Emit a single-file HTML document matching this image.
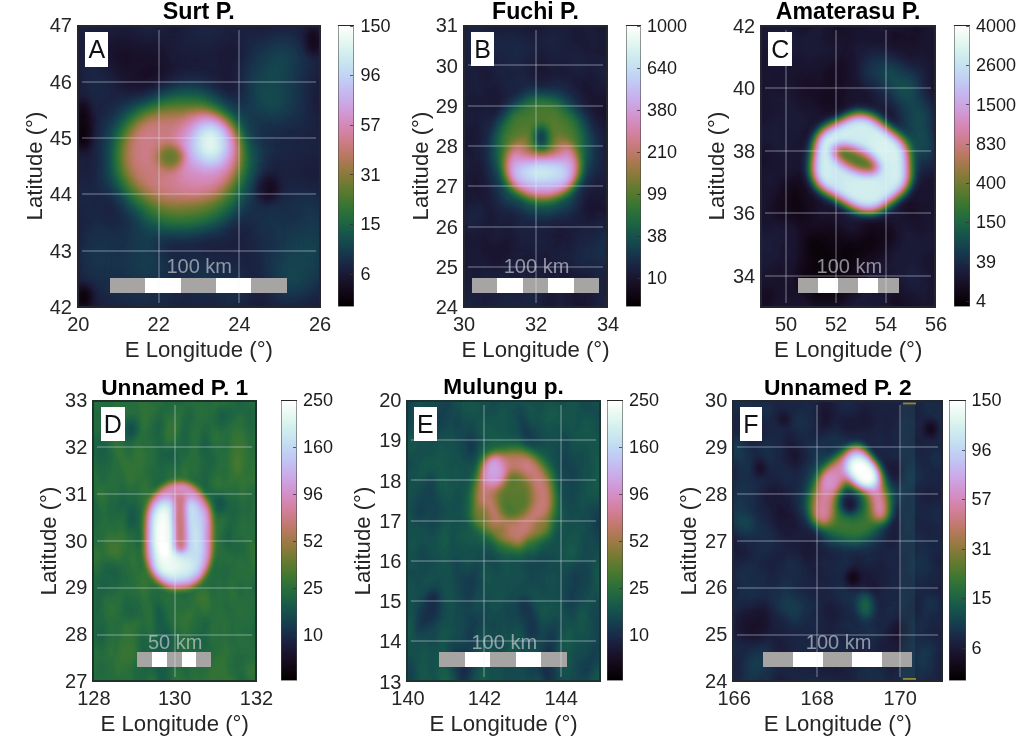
<!DOCTYPE html>
<html><head><meta charset="utf-8"><title>Pateras</title>
<style>
html,body{margin:0;padding:0;background:#fff;}
body{width:1024px;height:749px;position:relative;overflow:hidden;font-family:"Liberation Sans",Arial,sans-serif;color:#262626;}
.t{position:absolute;white-space:nowrap;line-height:1;}
.tk{font-size:20px;}
.cb{font-size:18px;color:#1a1a1a;}
.lb{font-size:22.2px;}
.ti{font-size:22.8px;font-weight:bold;color:#000;}
.c{transform:translate(-50%,-50%);}
.r{transform:translate(-100%,-50%);}
.l{transform:translate(0,-50%);}
.v{transform:translate(-50%,-50%) rotate(-90deg);}
.plot{position:absolute;overflow:hidden;background:#1a1d2b;}
.plot svg{position:absolute;left:0;top:0;display:block;}
.fr{position:absolute;box-sizing:border-box;border:2px solid #23262f;pointer-events:none;}
.gl{position:absolute;background:rgba(235,240,255,0.23);}
.box{position:absolute;background:#fff;color:#111;font-size:25px;line-height:1;text-align:center;}
.bar{position:absolute;}
.bar i{position:absolute;top:0;bottom:0;display:block;}
.sc{font-size:20px;color:rgba(200,204,212,0.68);}
.cbar{position:absolute;box-sizing:border-box;border:1px solid rgba(70,70,70,0.55);background:linear-gradient(to bottom,#ffffff 0.00%,#f8fdfa 1.56%,#f0fbf5 3.12%,#e9f8f2 4.69%,#e2f6f0 6.25%,#dbf3ef 7.81%,#d4efef 9.38%,#cfebef 10.94%,#cae7f0 12.50%,#c6e2f1 14.06%,#c4dcf2 15.62%,#c2d6f3 17.19%,#c1cff3 18.75%,#c2c9f3 20.31%,#c3c1f2 21.88%,#c5baf0 23.44%,#c7b3ed 25.00%,#caace8 26.56%,#cca5e2 28.12%,#cf9edb 29.69%,#d197d3 31.25%,#d391c9 32.81%,#d48cbf 34.38%,#d487b3 35.94%,#d483a7 37.50%,#d2809a 39.06%,#ce7d8e 40.62%,#ca7b81 42.19%,#c47a74 43.75%,#bc7968 45.31%,#b4795d 46.88%,#aa7952 48.44%,#a07949 50.00%,#957a41 51.56%,#897a3b 53.12%,#7d7a35 54.69%,#717b32 56.25%,#647a30 57.81%,#597a2f 59.38%,#4d792f 60.94%,#437731 62.50%,#397533 64.06%,#307237 65.62%,#296e3a 67.19%,#236a3e 68.75%,#1e6542 70.31%,#1a5f46 71.88%,#175949 73.44%,#16534c 75.00%,#154c4e 76.56%,#15454e 78.12%,#163e4e 79.69%,#17374d 81.25%,#18304a 82.81%,#192a46 84.38%,#1a2341 85.94%,#1b1d3b 87.50%,#1a1834 89.06%,#19132d 90.62%,#180f25 92.19%,#150b1d 93.75%,#110815 95.31%,#0c050e 96.88%,#070206 98.44%,#000000 100.00%);}
.ct{position:absolute;height:1px;width:3px;background:rgba(50,50,50,0.75);}
</style></head><body>

<div class="plot" style="left:77.0px;top:24.7px;width:243.5px;height:283.1px"><svg width="243.5" height="283.1" viewBox="0 0 243.5 283.1"><defs><filter id="fA" x="0" y="0" width="100%" height="100%" filterUnits="objectBoundingBox" color-interpolation-filters="sRGB">
<feTurbulence type="fractalNoise" baseFrequency="0.018 0.014" numOctaves="2" seed="3" result="n"/>
<feColorMatrix in="n" type="matrix" values="1 0 0 0 0  1 0 0 0 0  1 0 0 0 0  0 0 0 0 1" result="ng"/>
<feComposite in="SourceGraphic" in2="ng" operator="arithmetic" k1="0" k2="1" k3="0.1" k4="-0.0500" result="s"/>
<feComponentTransfer in="s">
<feFuncR type="table" tableValues="0.0000 0.0257 0.0481 0.0668 0.0817 0.0927 0.0999 0.1036 0.1042 0.1024 0.0988 0.0942 0.0895 0.0853 0.0827 0.0823 0.0850 0.0912 0.1016 0.1166 0.1363 0.1608 0.1901 0.2238 0.2616 0.3030 0.3473 0.3937 0.4414 0.4895 0.5372 0.5835 0.6275 0.6686 0.7059 0.7390 0.7673 0.7907 0.8088 0.8218 0.8299 0.8333 0.8325 0.8282 0.8210 0.8117 0.8011 0.7902 0.7798 0.7707 0.7636 0.7592 0.7581 0.7607 0.7673 0.7780 0.7927 0.8112 0.8331 0.8580 0.8851 0.9137 0.9430 0.9720 1.0000"/>
<feFuncG type="table" tableValues="0.0000 0.0088 0.0186 0.0300 0.0431 0.0581 0.0752 0.0944 0.1156 0.1387 0.1634 0.1894 0.2163 0.2438 0.2713 0.2986 0.3250 0.3502 0.3738 0.3954 0.4148 0.4317 0.4461 0.4578 0.4668 0.4734 0.4778 0.4801 0.4807 0.4800 0.4786 0.4767 0.4750 0.4738 0.4737 0.4751 0.4784 0.4838 0.4916 0.5021 0.5152 0.5310 0.5495 0.5704 0.5936 0.6187 0.6453 0.6731 0.7015 0.7303 0.7588 0.7867 0.8136 0.8391 0.8629 0.8848 0.9046 0.9223 0.9379 0.9516 0.9634 0.9738 0.9831 0.9917 1.0000"/>
<feFuncB type="table" tableValues="0.0000 0.0251 0.0530 0.0831 0.1143 0.1458 0.1764 0.2055 0.2320 0.2553 0.2747 0.2899 0.3005 0.3064 0.3078 0.3048 0.2979 0.2876 0.2747 0.2600 0.2444 0.2288 0.2141 0.2014 0.1916 0.1854 0.1836 0.1867 0.1953 0.2095 0.2295 0.2552 0.2864 0.3226 0.3633 0.4078 0.4551 0.5045 0.5550 0.6055 0.6552 0.7030 0.7481 0.7897 0.8272 0.8601 0.8881 0.9109 0.9287 0.9415 0.9497 0.9540 0.9548 0.9530 0.9495 0.9450 0.9407 0.9373 0.9358 0.9369 0.9413 0.9495 0.9620 0.9788 1.0000"/>
<feFuncA type="linear" slope="0" intercept="1"/>
</feComponentTransfer>
</filter><filter id="fAb3" filterUnits="userSpaceOnUse" x="-40" y="-40" width="324" height="363" color-interpolation-filters="sRGB"><feGaussianBlur stdDeviation="3"/></filter><filter id="fAb5" filterUnits="userSpaceOnUse" x="-40" y="-40" width="324" height="363" color-interpolation-filters="sRGB"><feGaussianBlur stdDeviation="5"/></filter><filter id="fAb8" filterUnits="userSpaceOnUse" x="-40" y="-40" width="324" height="363" color-interpolation-filters="sRGB"><feGaussianBlur stdDeviation="8"/></filter><filter id="fAb12" filterUnits="userSpaceOnUse" x="-40" y="-40" width="324" height="363" color-interpolation-filters="sRGB"><feGaussianBlur stdDeviation="12"/></filter></defs>
<g filter="url(#fA)"><rect x="-5" y="-5" width="253.5" height="293.1" fill="#212121"/>
<g filter="url(#fAb12)">
<ellipse cx="197" cy="50" rx="32" ry="45" fill="#363636"/>
<ellipse cx="214" cy="215" rx="32" ry="60" fill="#333333"/>
<ellipse cx="45" cy="238" rx="36" ry="45" fill="#303030"/>
<ellipse cx="125" cy="252" rx="50" ry="22" fill="#2b2b2b"/>
<ellipse cx="70" cy="40" rx="42" ry="30" fill="#1a1a1a"/>
<ellipse cx="150" cy="30" rx="25" ry="22" fill="#1c1c1c"/>
</g><g filter="url(#fAb5)">
<ellipse cx="189" cy="163" rx="12" ry="14" fill="#121212"/>
<ellipse cx="6" cy="100" rx="9" ry="26" fill="#050505"/>
<ellipse cx="6" cy="272" rx="9" ry="12" fill="#050505"/>
<ellipse cx="237" cy="16" rx="8" ry="14" fill="#080808"/>
</g>
<ellipse cx="105" cy="136" rx="68" ry="68" fill="#6b6b6b" filter="url(#fAb12)"/>
<rect x="49" y="88" width="110" height="87" rx="43" ry="38" fill="#939393" filter="url(#fAb8)"/>
<ellipse cx="124" cy="128" rx="32" ry="37" fill="#a3a3a3" filter="url(#fAb8)"/>
<ellipse cx="130" cy="124" rx="25" ry="28" fill="#bababa" filter="url(#fAb8)"/>
<ellipse cx="93" cy="132" rx="13" ry="12" fill="#6b6b6b" filter="url(#fAb5)"/>
<ellipse cx="134" cy="119" rx="14" ry="19" fill="#f7f7f7" filter="url(#fAb8)"/>

</g></svg>
<div class="bar" style="left:33.0px;top:253.5px;width:176.5px;height:14.6px"><i style="left:0.0px;width:35.6px;background:#a6a5a4"></i><i style="left:35.3px;width:35.6px;background:#fff"></i><i style="left:70.6px;width:35.6px;background:#a6a5a4"></i><i style="left:105.9px;width:35.6px;background:#fff"></i><i style="left:141.2px;width:35.6px;background:#a6a5a4"></i></div>
<div class="gl" style="left:80.7px;top:5px;width:2px;height:273.1px"></div>
<div class="gl" style="left:161.4px;top:5px;width:2px;height:273.1px"></div>
<div class="gl" style="left:5px;top:56.0px;height:2px;width:233.5px"></div>
<div class="gl" style="left:5px;top:112.3px;height:2px;width:233.5px"></div>
<div class="gl" style="left:5px;top:168.6px;height:2px;width:233.5px"></div>
<div class="gl" style="left:5px;top:224.9px;height:2px;width:233.5px"></div>
<div class="box" style="left:8.3px;top:7.8px;width:23.0px;height:34.4px"><span style="position:relative;top:4.6px">A</span></div>
<div class="t sc c" style="left:122.2px;top:241.2px">100 km</div>
</div>
<div class="fr" style="left:77.0px;top:24.7px;width:243.5px;height:283.1px;border-color:#23262f"></div>
<div class="t ti c" style="left:198.8px;top:12.0px;font-size:23.3px">Surt P.</div>
<div class="t tk r" style="left:72.0px;top:25.4px">47</div>
<div class="t tk r" style="left:72.0px;top:81.7px">46</div>
<div class="t tk r" style="left:72.0px;top:138.0px">45</div>
<div class="t tk r" style="left:72.0px;top:194.3px">44</div>
<div class="t tk r" style="left:72.0px;top:250.6px">43</div>
<div class="t tk r" style="left:72.0px;top:306.9px">42</div>
<div class="t tk c" style="left:78.3px;top:324.1px">20</div>
<div class="t tk c" style="left:158.7px;top:324.1px">22</div>
<div class="t tk c" style="left:239.4px;top:324.1px">24</div>
<div class="t tk c" style="left:320.0px;top:324.1px">26</div>
<div class="t lb c" style="left:198.8px;top:349.8px">E Longitude (°)</div>
<div class="t lb v" style="left:34.5px;top:166.2px">Latitude (°)</div>
<div class="cbar" style="left:338.1px;top:24.7px;width:16.3px;height:282.1px"></div>
<div class="ct" style="left:350.4px;top:25.8px"></div>
<div class="t cb l" style="left:360.4px;top:25.9px">150</div>
<div class="ct" style="left:350.4px;top:75.3px"></div>
<div class="t cb l" style="left:360.4px;top:75.4px">96</div>
<div class="ct" style="left:350.4px;top:124.9px"></div>
<div class="t cb l" style="left:360.4px;top:125.0px">57</div>
<div class="ct" style="left:350.4px;top:174.4px"></div>
<div class="t cb l" style="left:360.4px;top:174.5px">31</div>
<div class="ct" style="left:350.4px;top:224.0px"></div>
<div class="t cb l" style="left:360.4px;top:224.1px">15</div>
<div class="ct" style="left:350.4px;top:273.6px"></div>
<div class="t cb l" style="left:360.4px;top:273.7px">6</div>
<div class="plot" style="left:463.0px;top:24.7px;width:145.1px;height:283.1px"><svg width="145.1" height="283.1" viewBox="0 0 145.1 283.1"><defs><filter id="fB" x="0" y="0" width="100%" height="100%" filterUnits="objectBoundingBox" color-interpolation-filters="sRGB">
<feTurbulence type="fractalNoise" baseFrequency="0.03 0.02" numOctaves="2" seed="5" result="n"/>
<feColorMatrix in="n" type="matrix" values="1 0 0 0 0  1 0 0 0 0  1 0 0 0 0  0 0 0 0 1" result="ng"/>
<feComposite in="SourceGraphic" in2="ng" operator="arithmetic" k1="0" k2="1" k3="0.08" k4="-0.0400" result="s"/>
<feComponentTransfer in="s">
<feFuncR type="table" tableValues="0.0000 0.0257 0.0481 0.0668 0.0817 0.0927 0.0999 0.1036 0.1042 0.1024 0.0988 0.0942 0.0895 0.0853 0.0827 0.0823 0.0850 0.0912 0.1016 0.1166 0.1363 0.1608 0.1901 0.2238 0.2616 0.3030 0.3473 0.3937 0.4414 0.4895 0.5372 0.5835 0.6275 0.6686 0.7059 0.7390 0.7673 0.7907 0.8088 0.8218 0.8299 0.8333 0.8325 0.8282 0.8210 0.8117 0.8011 0.7902 0.7798 0.7707 0.7636 0.7592 0.7581 0.7607 0.7673 0.7780 0.7927 0.8112 0.8331 0.8580 0.8851 0.9137 0.9430 0.9720 1.0000"/>
<feFuncG type="table" tableValues="0.0000 0.0088 0.0186 0.0300 0.0431 0.0581 0.0752 0.0944 0.1156 0.1387 0.1634 0.1894 0.2163 0.2438 0.2713 0.2986 0.3250 0.3502 0.3738 0.3954 0.4148 0.4317 0.4461 0.4578 0.4668 0.4734 0.4778 0.4801 0.4807 0.4800 0.4786 0.4767 0.4750 0.4738 0.4737 0.4751 0.4784 0.4838 0.4916 0.5021 0.5152 0.5310 0.5495 0.5704 0.5936 0.6187 0.6453 0.6731 0.7015 0.7303 0.7588 0.7867 0.8136 0.8391 0.8629 0.8848 0.9046 0.9223 0.9379 0.9516 0.9634 0.9738 0.9831 0.9917 1.0000"/>
<feFuncB type="table" tableValues="0.0000 0.0251 0.0530 0.0831 0.1143 0.1458 0.1764 0.2055 0.2320 0.2553 0.2747 0.2899 0.3005 0.3064 0.3078 0.3048 0.2979 0.2876 0.2747 0.2600 0.2444 0.2288 0.2141 0.2014 0.1916 0.1854 0.1836 0.1867 0.1953 0.2095 0.2295 0.2552 0.2864 0.3226 0.3633 0.4078 0.4551 0.5045 0.5550 0.6055 0.6552 0.7030 0.7481 0.7897 0.8272 0.8601 0.8881 0.9109 0.9287 0.9415 0.9497 0.9540 0.9548 0.9530 0.9495 0.9450 0.9407 0.9373 0.9358 0.9369 0.9413 0.9495 0.9620 0.9788 1.0000"/>
<feFuncA type="linear" slope="0" intercept="1"/>
</feComponentTransfer>
</filter><filter id="fBb3" filterUnits="userSpaceOnUse" x="-40" y="-40" width="225" height="363" color-interpolation-filters="sRGB"><feGaussianBlur stdDeviation="3"/></filter><filter id="fBb5" filterUnits="userSpaceOnUse" x="-40" y="-40" width="225" height="363" color-interpolation-filters="sRGB"><feGaussianBlur stdDeviation="5"/></filter><filter id="fBb8" filterUnits="userSpaceOnUse" x="-40" y="-40" width="225" height="363" color-interpolation-filters="sRGB"><feGaussianBlur stdDeviation="8"/></filter><filter id="fBb12" filterUnits="userSpaceOnUse" x="-40" y="-40" width="225" height="363" color-interpolation-filters="sRGB"><feGaussianBlur stdDeviation="12"/></filter></defs>
<g filter="url(#fB)"><rect x="-5" y="-5" width="155.1" height="293.1" fill="#1f1f1f"/>
<g filter="url(#fBb8)" opacity="0.85"><ellipse cx="139" cy="268" rx="13" ry="16" transform="rotate(9 139 268)" fill="#282828"/><ellipse cx="97" cy="87" rx="20" ry="24" transform="rotate(-14 97 87)" fill="#222222"/><ellipse cx="62" cy="111" rx="21" ry="30" transform="rotate(2 62 111)" fill="#2a2a2a"/><ellipse cx="65" cy="76" rx="12" ry="15" transform="rotate(-7 65 76)" fill="#1f1f1f"/><ellipse cx="55" cy="252" rx="19" ry="23" transform="rotate(-19 55 252)" fill="#1a1a1a"/><ellipse cx="47" cy="39" rx="19" ry="30" transform="rotate(-13 47 39)" fill="#242424"/><ellipse cx="130" cy="225" rx="22" ry="29" transform="rotate(12 130 225)" fill="#262626"/><ellipse cx="51" cy="278" rx="25" ry="17" transform="rotate(9 51 278)" fill="#262626"/><ellipse cx="67" cy="150" rx="18" ry="29" transform="rotate(13 67 150)" fill="#202020"/><ellipse cx="51" cy="250" rx="24" ry="22" transform="rotate(17 51 250)" fill="#212121"/></g>
<ellipse cx="78" cy="128" rx="43" ry="58" fill="#666666" filter="url(#fBb12)"/>
<ellipse cx="78" cy="120" rx="27" ry="33" fill="none" stroke="#666666" stroke-width="20" filter="url(#fBb8)"/>
<ellipse cx="79" cy="141" rx="36" ry="32" fill="#a8a8a8" filter="url(#fBb5)"/>
<ellipse cx="78" cy="111" rx="23" ry="25" fill="#666666" filter="url(#fBb8)"/>
<ellipse cx="80.5" cy="148" rx="29" ry="12" fill="#e6e6e6" filter="url(#fBb8)"/>
<ellipse cx="78.4" cy="113" rx="7" ry="12" fill="#262626" filter="url(#fBb5)"/>

</g></svg>
<div class="bar" style="left:9.0px;top:252.9px;width:127.0px;height:15.2px"><i style="left:0.0px;width:25.7px;background:#a6a5a4"></i><i style="left:25.4px;width:25.7px;background:#fff"></i><i style="left:50.8px;width:25.7px;background:#a6a5a4"></i><i style="left:76.2px;width:25.7px;background:#fff"></i><i style="left:101.6px;width:25.7px;background:#a6a5a4"></i></div>
<div class="gl" style="left:72.0px;top:5px;width:2px;height:273.1px"></div>
<div class="gl" style="left:5px;top:39.8px;height:2px;width:135.1px"></div>
<div class="gl" style="left:5px;top:80.1px;height:2px;width:135.1px"></div>
<div class="gl" style="left:5px;top:120.4px;height:2px;width:135.1px"></div>
<div class="gl" style="left:5px;top:160.7px;height:2px;width:135.1px"></div>
<div class="gl" style="left:5px;top:201.0px;height:2px;width:135.1px"></div>
<div class="gl" style="left:5px;top:241.3px;height:2px;width:135.1px"></div>
<div class="box" style="left:8.0px;top:7.8px;width:23.0px;height:34.0px"><span style="position:relative;top:4.6px">B</span></div>
<div class="t sc c" style="left:73.5px;top:241.2px">100 km</div>
</div>
<div class="fr" style="left:463.0px;top:24.7px;width:145.1px;height:283.1px;border-color:#23262f"></div>
<div class="t ti c" style="left:535.5px;top:12.0px;font-size:23.1px">Fuchi P.</div>
<div class="t tk r" style="left:458.0px;top:25.2px">31</div>
<div class="t tk r" style="left:458.0px;top:65.5px">30</div>
<div class="t tk r" style="left:458.0px;top:105.8px">29</div>
<div class="t tk r" style="left:458.0px;top:146.1px">28</div>
<div class="t tk r" style="left:458.0px;top:186.4px">27</div>
<div class="t tk r" style="left:458.0px;top:226.7px">26</div>
<div class="t tk r" style="left:458.0px;top:267.0px">25</div>
<div class="t tk r" style="left:458.0px;top:307.3px">24</div>
<div class="t tk c" style="left:464.0px;top:324.1px">30</div>
<div class="t tk c" style="left:536.0px;top:324.1px">32</div>
<div class="t tk c" style="left:608.0px;top:324.1px">34</div>
<div class="t lb c" style="left:535.5px;top:349.8px">E Longitude (°)</div>
<div class="t lb v" style="left:421.0px;top:166.2px">Latitude (°)</div>
<div class="cbar" style="left:626.4px;top:24.7px;width:14.6px;height:282.1px"></div>
<div class="ct" style="left:637.0px;top:25.8px"></div>
<div class="t cb l" style="left:647.0px;top:25.9px">1000</div>
<div class="ct" style="left:637.0px;top:67.8px"></div>
<div class="t cb l" style="left:647.0px;top:67.9px">640</div>
<div class="ct" style="left:637.0px;top:109.8px"></div>
<div class="t cb l" style="left:647.0px;top:109.9px">380</div>
<div class="ct" style="left:637.0px;top:151.8px"></div>
<div class="t cb l" style="left:647.0px;top:151.9px">210</div>
<div class="ct" style="left:637.0px;top:193.8px"></div>
<div class="t cb l" style="left:647.0px;top:193.9px">99</div>
<div class="ct" style="left:637.0px;top:235.8px"></div>
<div class="t cb l" style="left:647.0px;top:235.9px">38</div>
<div class="ct" style="left:637.0px;top:277.8px"></div>
<div class="t cb l" style="left:647.0px;top:277.9px">10</div>
<div class="plot" style="left:760.2px;top:24.7px;width:176.1px;height:283.1px"><svg width="176.1" height="283.1" viewBox="0 0 176.1 283.1"><defs><filter id="fC" x="0" y="0" width="100%" height="100%" filterUnits="objectBoundingBox" color-interpolation-filters="sRGB">
<feTurbulence type="fractalNoise" baseFrequency="0.03 0.02" numOctaves="2" seed="8" result="n"/>
<feColorMatrix in="n" type="matrix" values="1 0 0 0 0  1 0 0 0 0  1 0 0 0 0  0 0 0 0 1" result="ng"/>
<feComposite in="SourceGraphic" in2="ng" operator="arithmetic" k1="0" k2="1" k3="0.08" k4="-0.0400" result="s"/>
<feComponentTransfer in="s">
<feFuncR type="table" tableValues="0.0000 0.0257 0.0481 0.0668 0.0817 0.0927 0.0999 0.1036 0.1042 0.1024 0.0988 0.0942 0.0895 0.0853 0.0827 0.0823 0.0850 0.0912 0.1016 0.1166 0.1363 0.1608 0.1901 0.2238 0.2616 0.3030 0.3473 0.3937 0.4414 0.4895 0.5372 0.5835 0.6275 0.6686 0.7059 0.7390 0.7673 0.7907 0.8088 0.8218 0.8299 0.8333 0.8325 0.8282 0.8210 0.8117 0.8011 0.7902 0.7798 0.7707 0.7636 0.7592 0.7581 0.7607 0.7673 0.7780 0.7927 0.8112 0.8331 0.8580 0.8851 0.9137 0.9430 0.9720 1.0000"/>
<feFuncG type="table" tableValues="0.0000 0.0088 0.0186 0.0300 0.0431 0.0581 0.0752 0.0944 0.1156 0.1387 0.1634 0.1894 0.2163 0.2438 0.2713 0.2986 0.3250 0.3502 0.3738 0.3954 0.4148 0.4317 0.4461 0.4578 0.4668 0.4734 0.4778 0.4801 0.4807 0.4800 0.4786 0.4767 0.4750 0.4738 0.4737 0.4751 0.4784 0.4838 0.4916 0.5021 0.5152 0.5310 0.5495 0.5704 0.5936 0.6187 0.6453 0.6731 0.7015 0.7303 0.7588 0.7867 0.8136 0.8391 0.8629 0.8848 0.9046 0.9223 0.9379 0.9516 0.9634 0.9738 0.9831 0.9917 1.0000"/>
<feFuncB type="table" tableValues="0.0000 0.0251 0.0530 0.0831 0.1143 0.1458 0.1764 0.2055 0.2320 0.2553 0.2747 0.2899 0.3005 0.3064 0.3078 0.3048 0.2979 0.2876 0.2747 0.2600 0.2444 0.2288 0.2141 0.2014 0.1916 0.1854 0.1836 0.1867 0.1953 0.2095 0.2295 0.2552 0.2864 0.3226 0.3633 0.4078 0.4551 0.5045 0.5550 0.6055 0.6552 0.7030 0.7481 0.7897 0.8272 0.8601 0.8881 0.9109 0.9287 0.9415 0.9497 0.9540 0.9548 0.9530 0.9495 0.9450 0.9407 0.9373 0.9358 0.9369 0.9413 0.9495 0.9620 0.9788 1.0000"/>
<feFuncA type="linear" slope="0" intercept="1"/>
</feComponentTransfer>
</filter><filter id="fCb3" filterUnits="userSpaceOnUse" x="-40" y="-40" width="256" height="363" color-interpolation-filters="sRGB"><feGaussianBlur stdDeviation="3"/></filter><filter id="fCb5" filterUnits="userSpaceOnUse" x="-40" y="-40" width="256" height="363" color-interpolation-filters="sRGB"><feGaussianBlur stdDeviation="5"/></filter><filter id="fCb8" filterUnits="userSpaceOnUse" x="-40" y="-40" width="256" height="363" color-interpolation-filters="sRGB"><feGaussianBlur stdDeviation="8"/></filter><filter id="fCb12" filterUnits="userSpaceOnUse" x="-40" y="-40" width="256" height="363" color-interpolation-filters="sRGB"><feGaussianBlur stdDeviation="12"/></filter></defs>
<g filter="url(#fC)"><rect x="-5" y="-5" width="186.1" height="293.1" fill="#1a1a1a"/>
<g filter="url(#fCb8)">
<ellipse cx="70" cy="240" rx="32" ry="40" fill="#080808"/>
<ellipse cx="30" cy="175" rx="14" ry="22" fill="#0d0d0d"/>
<ellipse cx="120" cy="215" rx="18" ry="18" fill="#0d0d0d"/>
<ellipse cx="60" cy="55" rx="22" ry="25" fill="#141414"/>
<ellipse cx="150" cy="230" rx="20" ry="35" fill="#1f1f1f"/>
<ellipse cx="25" cy="100" rx="15" ry="30" fill="#1f1f1f"/>
</g>
<path d="M118 45 C150 50 165 90 158 130" fill="none" stroke="#474747" stroke-width="24" stroke-linecap="round" filter="url(#fCb12)"/>
<path d="M81 125 L100 116 L122 133 L123 149 L108 160 L79 144 Z" fill="#737373" stroke="#737373" stroke-width="60" stroke-linejoin="round" filter="url(#fCb5)"/>
<path d="M81 125 L100 116 L122 133 L123 149 L108 160 L79 144 Z" fill="#e6e6e6" stroke="#e6e6e6" stroke-width="48" stroke-linejoin="round" filter="url(#fCb5)"/>
<ellipse cx="95.5" cy="134.5" rx="28" ry="14" transform="rotate(25 95.5 134.5)" fill="#b2b2b2" filter="url(#fCb3)"/>
<ellipse cx="95.5" cy="134.5" rx="21" ry="7.5" transform="rotate(25 95.5 135)" fill="#666666" filter="url(#fCb3)"/>

</g></svg>
<div class="bar" style="left:38.2px;top:253.2px;width:100.0px;height:14.9px"><i style="left:0.0px;width:20.3px;background:#a6a5a4"></i><i style="left:20.0px;width:20.3px;background:#fff"></i><i style="left:40.0px;width:20.3px;background:#a6a5a4"></i><i style="left:60.0px;width:20.3px;background:#fff"></i><i style="left:80.0px;width:20.3px;background:#a6a5a4"></i></div>
<div class="gl" style="left:24.8px;top:5px;width:2px;height:273.1px"></div>
<div class="gl" style="left:74.8px;top:5px;width:2px;height:273.1px"></div>
<div class="gl" style="left:124.8px;top:5px;width:2px;height:273.1px"></div>
<div class="gl" style="left:5px;top:62.7px;height:2px;width:166.1px"></div>
<div class="gl" style="left:5px;top:125.1px;height:2px;width:166.1px"></div>
<div class="gl" style="left:5px;top:187.5px;height:2px;width:166.1px"></div>
<div class="gl" style="left:5px;top:249.9px;height:2px;width:166.1px"></div>
<div class="box" style="left:8.1px;top:7.8px;width:23.9px;height:34.0px"><span style="position:relative;top:4.6px">C</span></div>
<div class="t sc c" style="left:89.2px;top:241.2px">100 km</div>
</div>
<div class="fr" style="left:760.2px;top:24.7px;width:176.1px;height:283.1px;border-color:#23262f"></div>
<div class="t ti c" style="left:848.2px;top:12.0px;font-size:23.1px">Amaterasu P.</div>
<div class="t tk r" style="left:755.2px;top:26.0px">42</div>
<div class="t tk r" style="left:755.2px;top:88.4px">40</div>
<div class="t tk r" style="left:755.2px;top:150.8px">38</div>
<div class="t tk r" style="left:755.2px;top:213.2px">36</div>
<div class="t tk r" style="left:755.2px;top:275.6px">34</div>
<div class="t tk c" style="left:786.0px;top:324.1px">50</div>
<div class="t tk c" style="left:836.0px;top:324.1px">52</div>
<div class="t tk c" style="left:886.0px;top:324.1px">54</div>
<div class="t tk c" style="left:936.0px;top:324.1px">56</div>
<div class="t lb c" style="left:848.2px;top:349.8px">E Longitude (°)</div>
<div class="t lb v" style="left:717.2px;top:166.2px">Latitude (°)</div>
<div class="cbar" style="left:953.8px;top:24.7px;width:16.2px;height:282.1px"></div>
<div class="ct" style="left:966.0px;top:25.8px"></div>
<div class="t cb l" style="left:976.0px;top:25.9px">4000</div>
<div class="ct" style="left:966.0px;top:65.1px"></div>
<div class="t cb l" style="left:976.0px;top:65.2px">2600</div>
<div class="ct" style="left:966.0px;top:104.4px"></div>
<div class="t cb l" style="left:976.0px;top:104.5px">1500</div>
<div class="ct" style="left:966.0px;top:143.7px"></div>
<div class="t cb l" style="left:976.0px;top:143.8px">830</div>
<div class="ct" style="left:966.0px;top:183.0px"></div>
<div class="t cb l" style="left:976.0px;top:183.1px">400</div>
<div class="ct" style="left:966.0px;top:222.3px"></div>
<div class="t cb l" style="left:976.0px;top:222.4px">150</div>
<div class="ct" style="left:966.0px;top:261.6px"></div>
<div class="t cb l" style="left:976.0px;top:261.7px">39</div>
<div class="ct" style="left:966.0px;top:300.9px"></div>
<div class="t cb l" style="left:976.0px;top:301.0px">4</div>
<div class="plot" style="left:92.3px;top:399.7px;width:164.7px;height:282.3px"><svg width="164.7" height="282.3" viewBox="0 0 164.7 282.3"><defs><filter id="fD" x="0" y="0" width="100%" height="100%" filterUnits="objectBoundingBox" color-interpolation-filters="sRGB">
<feTurbulence type="fractalNoise" baseFrequency="0.05 0.022" numOctaves="2" seed="2" result="n"/>
<feColorMatrix in="n" type="matrix" values="1 0 0 0 0  1 0 0 0 0  1 0 0 0 0  0 0 0 0 1" result="ng"/>
<feComposite in="SourceGraphic" in2="ng" operator="arithmetic" k1="0" k2="1" k3="0.1" k4="-0.0500" result="s"/>
<feComponentTransfer in="s">
<feFuncR type="table" tableValues="0.0000 0.0257 0.0481 0.0668 0.0817 0.0927 0.0999 0.1036 0.1042 0.1024 0.0988 0.0942 0.0895 0.0853 0.0827 0.0823 0.0850 0.0912 0.1016 0.1166 0.1363 0.1608 0.1901 0.2238 0.2616 0.3030 0.3473 0.3937 0.4414 0.4895 0.5372 0.5835 0.6275 0.6686 0.7059 0.7390 0.7673 0.7907 0.8088 0.8218 0.8299 0.8333 0.8325 0.8282 0.8210 0.8117 0.8011 0.7902 0.7798 0.7707 0.7636 0.7592 0.7581 0.7607 0.7673 0.7780 0.7927 0.8112 0.8331 0.8580 0.8851 0.9137 0.9430 0.9720 1.0000"/>
<feFuncG type="table" tableValues="0.0000 0.0088 0.0186 0.0300 0.0431 0.0581 0.0752 0.0944 0.1156 0.1387 0.1634 0.1894 0.2163 0.2438 0.2713 0.2986 0.3250 0.3502 0.3738 0.3954 0.4148 0.4317 0.4461 0.4578 0.4668 0.4734 0.4778 0.4801 0.4807 0.4800 0.4786 0.4767 0.4750 0.4738 0.4737 0.4751 0.4784 0.4838 0.4916 0.5021 0.5152 0.5310 0.5495 0.5704 0.5936 0.6187 0.6453 0.6731 0.7015 0.7303 0.7588 0.7867 0.8136 0.8391 0.8629 0.8848 0.9046 0.9223 0.9379 0.9516 0.9634 0.9738 0.9831 0.9917 1.0000"/>
<feFuncB type="table" tableValues="0.0000 0.0251 0.0530 0.0831 0.1143 0.1458 0.1764 0.2055 0.2320 0.2553 0.2747 0.2899 0.3005 0.3064 0.3078 0.3048 0.2979 0.2876 0.2747 0.2600 0.2444 0.2288 0.2141 0.2014 0.1916 0.1854 0.1836 0.1867 0.1953 0.2095 0.2295 0.2552 0.2864 0.3226 0.3633 0.4078 0.4551 0.5045 0.5550 0.6055 0.6552 0.7030 0.7481 0.7897 0.8272 0.8601 0.8881 0.9109 0.9287 0.9415 0.9497 0.9540 0.9548 0.9530 0.9495 0.9450 0.9407 0.9373 0.9358 0.9369 0.9413 0.9495 0.9620 0.9788 1.0000"/>
<feFuncA type="linear" slope="0" intercept="1"/>
</feComponentTransfer>
</filter><filter id="fDb3" filterUnits="userSpaceOnUse" x="-40" y="-40" width="245" height="362" color-interpolation-filters="sRGB"><feGaussianBlur stdDeviation="3"/></filter><filter id="fDb5" filterUnits="userSpaceOnUse" x="-40" y="-40" width="245" height="362" color-interpolation-filters="sRGB"><feGaussianBlur stdDeviation="5"/></filter><filter id="fDb8" filterUnits="userSpaceOnUse" x="-40" y="-40" width="245" height="362" color-interpolation-filters="sRGB"><feGaussianBlur stdDeviation="8"/></filter><filter id="fDb12" filterUnits="userSpaceOnUse" x="-40" y="-40" width="245" height="362" color-interpolation-filters="sRGB"><feGaussianBlur stdDeviation="12"/></filter></defs>
<g filter="url(#fD)"><rect x="-5" y="-5" width="174.7" height="292.3" fill="#525252"/>
<g filter="url(#fDb5)" opacity="0.85"><ellipse cx="39" cy="29" rx="6" ry="12" transform="rotate(-4 39 29)" fill="#383838"/><ellipse cx="151" cy="227" rx="8" ry="14" transform="rotate(-9 151 227)" fill="#4d4d4d"/><ellipse cx="28" cy="30" rx="5" ry="25" transform="rotate(12 28 30)" fill="#595959"/><ellipse cx="132" cy="55" rx="6" ry="20" transform="rotate(14 132 55)" fill="#555555"/><ellipse cx="145" cy="25" rx="7" ry="21" transform="rotate(-13 145 25)" fill="#4b4b4b"/><ellipse cx="78" cy="25" rx="9" ry="24" transform="rotate(-8 78 25)" fill="#4d4d4d"/><ellipse cx="150" cy="162" rx="8" ry="24" transform="rotate(-3 150 162)" fill="#4c4c4c"/><ellipse cx="99" cy="122" rx="5" ry="15" transform="rotate(-18 99 122)" fill="#595959"/><ellipse cx="8" cy="177" rx="5" ry="19" transform="rotate(-6 8 177)" fill="#4a4a4a"/><ellipse cx="165" cy="55" rx="6" ry="13" transform="rotate(-9 165 55)" fill="#515151"/><ellipse cx="59" cy="211" rx="6" ry="19" transform="rotate(-16 59 211)" fill="#5d5d5d"/><ellipse cx="10" cy="65" rx="8" ry="20" transform="rotate(-7 10 65)" fill="#404040"/><ellipse cx="29" cy="130" rx="4" ry="21" transform="rotate(18 29 130)" fill="#5c5c5c"/><ellipse cx="121" cy="272" rx="4" ry="15" transform="rotate(11 121 272)" fill="#5f5f5f"/><ellipse cx="68" cy="267" rx="7" ry="23" transform="rotate(-12 68 267)" fill="#424242"/><ellipse cx="73" cy="39" rx="6" ry="25" transform="rotate(-20 73 39)" fill="#444444"/><ellipse cx="7" cy="48" rx="8" ry="16" transform="rotate(-16 7 48)" fill="#424242"/><ellipse cx="162" cy="120" rx="5" ry="11" transform="rotate(-13 162 120)" fill="#383838"/><ellipse cx="112" cy="42" rx="4" ry="18" transform="rotate(20 112 42)" fill="#404040"/><ellipse cx="20" cy="150" rx="8" ry="17" transform="rotate(-1 20 150)" fill="#606060"/><ellipse cx="40" cy="116" rx="4" ry="17" transform="rotate(16 40 116)" fill="#404040"/><ellipse cx="137" cy="141" rx="4" ry="14" transform="rotate(-12 137 141)" fill="#404040"/><ellipse cx="38" cy="246" rx="5" ry="11" transform="rotate(3 38 246)" fill="#5e5e5e"/><ellipse cx="163" cy="114" rx="9" ry="20" transform="rotate(10 163 114)" fill="#585858"/><ellipse cx="82" cy="26" rx="5" ry="24" transform="rotate(17 82 26)" fill="#5d5d5d"/><ellipse cx="56" cy="186" rx="8" ry="20" transform="rotate(1 56 186)" fill="#595959"/><ellipse cx="108" cy="194" rx="5" ry="25" transform="rotate(-17 108 194)" fill="#5f5f5f"/><ellipse cx="160" cy="272" rx="7" ry="11" transform="rotate(-15 160 272)" fill="#5d5d5d"/><ellipse cx="160" cy="189" rx="4" ry="13" transform="rotate(3 160 189)" fill="#515151"/><ellipse cx="123" cy="262" rx="5" ry="10" transform="rotate(-19 123 262)" fill="#5e5e5e"/><ellipse cx="145" cy="33" rx="8" ry="23" transform="rotate(2 145 33)" fill="#5c5c5c"/><ellipse cx="145" cy="57" rx="7" ry="15" transform="rotate(11 145 57)" fill="#5c5c5c"/><ellipse cx="78" cy="149" rx="4" ry="11" transform="rotate(-0 78 149)" fill="#4f4f4f"/><ellipse cx="143" cy="172" rx="5" ry="16" transform="rotate(1 143 172)" fill="#575757"/><ellipse cx="2" cy="237" rx="8" ry="11" transform="rotate(-5 2 237)" fill="#4d4d4d"/><ellipse cx="130" cy="88" rx="5" ry="18" transform="rotate(-16 130 88)" fill="#5f5f5f"/><ellipse cx="19" cy="176" rx="8" ry="18" transform="rotate(14 19 176)" fill="#484848"/><ellipse cx="128" cy="19" rx="8" ry="13" transform="rotate(13 128 19)" fill="#434343"/><ellipse cx="70" cy="226" rx="5" ry="24" transform="rotate(-14 70 226)" fill="#3d3d3d"/><ellipse cx="82" cy="96" rx="7" ry="24" transform="rotate(-20 82 96)" fill="#545454"/><ellipse cx="51" cy="154" rx="6" ry="21" transform="rotate(-17 51 154)" fill="#4b4b4b"/><ellipse cx="40" cy="240" rx="6" ry="22" transform="rotate(5 40 240)" fill="#606060"/><ellipse cx="112" cy="172" rx="6" ry="25" transform="rotate(16 112 172)" fill="#4a4a4a"/><ellipse cx="50" cy="246" rx="8" ry="20" transform="rotate(-14 50 246)" fill="#494949"/><ellipse cx="127" cy="102" rx="7" ry="12" transform="rotate(-14 127 102)" fill="#393939"/></g>
<rect x="53" y="83" width="67" height="106" rx="31" ry="40" fill="#9e9e9e" filter="url(#fDb3)"/>
<rect x="59" y="91" width="55" height="93" rx="26" ry="36" fill="#d9d9d9" filter="url(#fDb5)"/>
<ellipse cx="72" cy="136" rx="10" ry="33" fill="#fcfcfc" filter="url(#fDb5)"/>
<ellipse cx="84" cy="166" rx="18" ry="10" fill="#f2f2f2" filter="url(#fDb5)"/>
<ellipse cx="88" cy="93" rx="15" ry="7" fill="#a1a1a1" filter="url(#fDb5)"/>
<rect x="82.5" y="92" width="12" height="60" rx="6" fill="#8f8f8f" filter="url(#fDb3)"/>

</g></svg>
<div class="bar" style="left:44.9px;top:252.7px;width:74.0px;height:14.8px"><i style="left:0.0px;width:15.1px;background:#a6a5a4"></i><i style="left:14.8px;width:15.1px;background:#fff"></i><i style="left:29.6px;width:15.1px;background:#a6a5a4"></i><i style="left:44.4px;width:15.1px;background:#fff"></i><i style="left:59.2px;width:15.1px;background:#a6a5a4"></i></div>
<div class="gl" style="left:81.4px;top:5px;width:2px;height:272.3px"></div>
<div class="gl" style="left:5px;top:46.0px;height:2px;width:154.7px"></div>
<div class="gl" style="left:5px;top:93.0px;height:2px;width:154.7px"></div>
<div class="gl" style="left:5px;top:140.0px;height:2px;width:154.7px"></div>
<div class="gl" style="left:5px;top:187.0px;height:2px;width:154.7px"></div>
<div class="gl" style="left:5px;top:234.0px;height:2px;width:154.7px"></div>
<div class="box" style="left:8.3px;top:7.3px;width:24.2px;height:34.0px"><span style="position:relative;top:4.6px">D</span></div>
<div class="t sc c" style="left:82.9px;top:242.2px">50 km</div>
</div>
<div class="fr" style="left:92.3px;top:399.7px;width:164.7px;height:282.3px;border-color:#1d3328"></div>
<div class="t ti c" style="left:174.7px;top:387.0px;font-size:22.7px">Unnamed P. 1</div>
<div class="t tk r" style="left:87.3px;top:399.8px">33</div>
<div class="t tk r" style="left:87.3px;top:446.7px">32</div>
<div class="t tk r" style="left:87.3px;top:493.6px">31</div>
<div class="t tk r" style="left:87.3px;top:540.5px">30</div>
<div class="t tk r" style="left:87.3px;top:587.4px">29</div>
<div class="t tk r" style="left:87.3px;top:634.3px">28</div>
<div class="t tk r" style="left:87.3px;top:681.2px">27</div>
<div class="t tk c" style="left:93.9px;top:698.3px">128</div>
<div class="t tk c" style="left:174.7px;top:698.3px">130</div>
<div class="t tk c" style="left:256.5px;top:698.3px">132</div>
<div class="t lb c" style="left:174.7px;top:724.0px">E Longitude (°)</div>
<div class="t lb v" style="left:49.3px;top:540.9px">Latitude (°)</div>
<div class="cbar" style="left:280.8px;top:399.7px;width:16.1px;height:281.3px"></div>
<div class="ct" style="left:292.9px;top:400.0px"></div>
<div class="t cb l" style="left:302.9px;top:400.1px">250</div>
<div class="ct" style="left:292.9px;top:446.9px"></div>
<div class="t cb l" style="left:302.9px;top:447.0px">160</div>
<div class="ct" style="left:292.9px;top:493.8px"></div>
<div class="t cb l" style="left:302.9px;top:493.9px">96</div>
<div class="ct" style="left:292.9px;top:540.7px"></div>
<div class="t cb l" style="left:302.9px;top:540.8px">52</div>
<div class="ct" style="left:292.9px;top:587.6px"></div>
<div class="t cb l" style="left:302.9px;top:587.7px">25</div>
<div class="ct" style="left:292.9px;top:634.5px"></div>
<div class="t cb l" style="left:302.9px;top:634.6px">10</div>
<div class="plot" style="left:406.4px;top:399.7px;width:194.4px;height:282.3px"><svg width="194.4" height="282.3" viewBox="0 0 194.4 282.3"><defs><filter id="fE" x="0" y="0" width="100%" height="100%" filterUnits="objectBoundingBox" color-interpolation-filters="sRGB">
<feTurbulence type="fractalNoise" baseFrequency="0.04 0.02" numOctaves="2" seed="11" result="n"/>
<feColorMatrix in="n" type="matrix" values="1 0 0 0 0  1 0 0 0 0  1 0 0 0 0  0 0 0 0 1" result="ng"/>
<feComposite in="SourceGraphic" in2="ng" operator="arithmetic" k1="0" k2="1" k3="0.1" k4="-0.0500" result="s"/>
<feComponentTransfer in="s">
<feFuncR type="table" tableValues="0.0000 0.0257 0.0481 0.0668 0.0817 0.0927 0.0999 0.1036 0.1042 0.1024 0.0988 0.0942 0.0895 0.0853 0.0827 0.0823 0.0850 0.0912 0.1016 0.1166 0.1363 0.1608 0.1901 0.2238 0.2616 0.3030 0.3473 0.3937 0.4414 0.4895 0.5372 0.5835 0.6275 0.6686 0.7059 0.7390 0.7673 0.7907 0.8088 0.8218 0.8299 0.8333 0.8325 0.8282 0.8210 0.8117 0.8011 0.7902 0.7798 0.7707 0.7636 0.7592 0.7581 0.7607 0.7673 0.7780 0.7927 0.8112 0.8331 0.8580 0.8851 0.9137 0.9430 0.9720 1.0000"/>
<feFuncG type="table" tableValues="0.0000 0.0088 0.0186 0.0300 0.0431 0.0581 0.0752 0.0944 0.1156 0.1387 0.1634 0.1894 0.2163 0.2438 0.2713 0.2986 0.3250 0.3502 0.3738 0.3954 0.4148 0.4317 0.4461 0.4578 0.4668 0.4734 0.4778 0.4801 0.4807 0.4800 0.4786 0.4767 0.4750 0.4738 0.4737 0.4751 0.4784 0.4838 0.4916 0.5021 0.5152 0.5310 0.5495 0.5704 0.5936 0.6187 0.6453 0.6731 0.7015 0.7303 0.7588 0.7867 0.8136 0.8391 0.8629 0.8848 0.9046 0.9223 0.9379 0.9516 0.9634 0.9738 0.9831 0.9917 1.0000"/>
<feFuncB type="table" tableValues="0.0000 0.0251 0.0530 0.0831 0.1143 0.1458 0.1764 0.2055 0.2320 0.2553 0.2747 0.2899 0.3005 0.3064 0.3078 0.3048 0.2979 0.2876 0.2747 0.2600 0.2444 0.2288 0.2141 0.2014 0.1916 0.1854 0.1836 0.1867 0.1953 0.2095 0.2295 0.2552 0.2864 0.3226 0.3633 0.4078 0.4551 0.5045 0.5550 0.6055 0.6552 0.7030 0.7481 0.7897 0.8272 0.8601 0.8881 0.9109 0.9287 0.9415 0.9497 0.9540 0.9548 0.9530 0.9495 0.9450 0.9407 0.9373 0.9358 0.9369 0.9413 0.9495 0.9620 0.9788 1.0000"/>
<feFuncA type="linear" slope="0" intercept="1"/>
</feComponentTransfer>
</filter><filter id="fEb3" filterUnits="userSpaceOnUse" x="-40" y="-40" width="274" height="362" color-interpolation-filters="sRGB"><feGaussianBlur stdDeviation="3"/></filter><filter id="fEb5" filterUnits="userSpaceOnUse" x="-40" y="-40" width="274" height="362" color-interpolation-filters="sRGB"><feGaussianBlur stdDeviation="5"/></filter><filter id="fEb8" filterUnits="userSpaceOnUse" x="-40" y="-40" width="274" height="362" color-interpolation-filters="sRGB"><feGaussianBlur stdDeviation="8"/></filter><filter id="fEb12" filterUnits="userSpaceOnUse" x="-40" y="-40" width="274" height="362" color-interpolation-filters="sRGB"><feGaussianBlur stdDeviation="12"/></filter></defs>
<g filter="url(#fE)"><rect x="-5" y="-5" width="204.4" height="292.3" fill="#3d3d3d"/>
<g filter="url(#fEb5)" opacity="0.85"><ellipse cx="121" cy="210" rx="10" ry="25" transform="rotate(17 121 210)" fill="#404040"/><ellipse cx="6" cy="132" rx="11" ry="20" transform="rotate(-15 6 132)" fill="#464646"/><ellipse cx="91" cy="70" rx="8" ry="19" transform="rotate(-11 91 70)" fill="#242424"/><ellipse cx="54" cy="259" rx="10" ry="13" transform="rotate(-14 54 259)" fill="#424242"/><ellipse cx="120" cy="36" rx="5" ry="24" transform="rotate(-11 120 36)" fill="#2c2c2c"/><ellipse cx="192" cy="247" rx="7" ry="25" transform="rotate(7 192 247)" fill="#383838"/><ellipse cx="40" cy="266" rx="9" ry="25" transform="rotate(-8 40 266)" fill="#464646"/><ellipse cx="70" cy="47" rx="6" ry="11" transform="rotate(4 70 47)" fill="#2f2f2f"/><ellipse cx="1" cy="192" rx="7" ry="15" transform="rotate(-1 1 192)" fill="#434343"/><ellipse cx="62" cy="136" rx="9" ry="11" transform="rotate(-19 62 136)" fill="#494949"/><ellipse cx="146" cy="239" rx="5" ry="23" transform="rotate(3 146 239)" fill="#323232"/><ellipse cx="2" cy="13" rx="6" ry="25" transform="rotate(10 2 13)" fill="#2b2b2b"/><ellipse cx="181" cy="267" rx="7" ry="16" transform="rotate(11 181 267)" fill="#383838"/><ellipse cx="21" cy="212" rx="10" ry="24" transform="rotate(18 21 212)" fill="#252525"/><ellipse cx="18" cy="96" rx="9" ry="25" transform="rotate(17 18 96)" fill="#313131"/><ellipse cx="106" cy="88" rx="7" ry="13" transform="rotate(-14 106 88)" fill="#272727"/><ellipse cx="134" cy="282" rx="6" ry="11" transform="rotate(1 134 282)" fill="#494949"/><ellipse cx="79" cy="67" rx="9" ry="23" transform="rotate(-3 79 67)" fill="#353535"/><ellipse cx="11" cy="259" rx="5" ry="18" transform="rotate(-15 11 259)" fill="#444444"/><ellipse cx="143" cy="269" rx="9" ry="23" transform="rotate(-3 143 269)" fill="#282828"/><ellipse cx="29" cy="239" rx="7" ry="17" transform="rotate(14 29 239)" fill="#4a4a4a"/><ellipse cx="190" cy="128" rx="8" ry="22" transform="rotate(-8 190 128)" fill="#363636"/><ellipse cx="79" cy="41" rx="7" ry="26" transform="rotate(5 79 41)" fill="#484848"/><ellipse cx="97" cy="96" rx="6" ry="14" transform="rotate(15 97 96)" fill="#424242"/><ellipse cx="70" cy="222" rx="10" ry="21" transform="rotate(10 70 222)" fill="#3d3d3d"/><ellipse cx="71" cy="199" rx="7" ry="18" transform="rotate(8 71 199)" fill="#414141"/><ellipse cx="57" cy="268" rx="9" ry="19" transform="rotate(2 57 268)" fill="#242424"/><ellipse cx="49" cy="190" rx="8" ry="23" transform="rotate(12 49 190)" fill="#3c3c3c"/><ellipse cx="68" cy="182" rx="9" ry="23" transform="rotate(14 68 182)" fill="#313131"/><ellipse cx="170" cy="195" rx="11" ry="25" transform="rotate(1 170 195)" fill="#383838"/><ellipse cx="32" cy="237" rx="11" ry="18" transform="rotate(9 32 237)" fill="#3e3e3e"/><ellipse cx="142" cy="49" rx="10" ry="19" transform="rotate(-3 142 49)" fill="#3d3d3d"/><ellipse cx="122" cy="219" rx="9" ry="22" transform="rotate(-14 122 219)" fill="#252525"/><ellipse cx="86" cy="184" rx="6" ry="21" transform="rotate(-18 86 184)" fill="#3c3c3c"/><ellipse cx="92" cy="64" rx="5" ry="12" transform="rotate(-13 92 64)" fill="#303030"/><ellipse cx="38" cy="10" rx="8" ry="16" transform="rotate(4 38 10)" fill="#3b3b3b"/><ellipse cx="46" cy="256" rx="5" ry="16" transform="rotate(-4 46 256)" fill="#2e2e2e"/><ellipse cx="22" cy="235" rx="7" ry="11" transform="rotate(-16 22 235)" fill="#3b3b3b"/><ellipse cx="106" cy="96" rx="8" ry="25" transform="rotate(-3 106 96)" fill="#434343"/><ellipse cx="159" cy="182" rx="7" ry="12" transform="rotate(3 159 182)" fill="#3a3a3a"/></g>
<ellipse cx="108" cy="99" rx="42" ry="53" fill="#666666" filter="url(#fEb8)"/>
<ellipse cx="108" cy="96" rx="28" ry="34" fill="none" stroke="#939393" stroke-width="19" filter="url(#fEb5)"/>
<ellipse cx="76" cy="117" rx="8" ry="11" fill="#737373" filter="url(#fEb5)"/>
<ellipse cx="134" cy="127" rx="9" ry="9" fill="#787878" filter="url(#fEb5)"/>
<ellipse cx="96" cy="131" rx="8" ry="7" fill="#787878" filter="url(#fEb5)"/>
<ellipse cx="111" cy="134" rx="6" ry="12" fill="#8c8c8c" filter="url(#fEb5)"/>
<ellipse cx="88" cy="71" rx="11" ry="16" fill="#b2b2b2" filter="url(#fEb5)"/>

</g></svg>
<div class="bar" style="left:33.1px;top:252.7px;width:127.5px;height:14.9px"><i style="left:0.0px;width:25.8px;background:#a6a5a4"></i><i style="left:25.5px;width:25.8px;background:#fff"></i><i style="left:51.0px;width:25.8px;background:#a6a5a4"></i><i style="left:76.5px;width:25.8px;background:#fff"></i><i style="left:102.0px;width:25.8px;background:#a6a5a4"></i></div>
<div class="gl" style="left:77.1px;top:5px;width:2px;height:272.3px"></div>
<div class="gl" style="left:153.7px;top:5px;width:2px;height:272.3px"></div>
<div class="gl" style="left:5px;top:39.6px;height:2px;width:184.4px"></div>
<div class="gl" style="left:5px;top:79.8px;height:2px;width:184.4px"></div>
<div class="gl" style="left:5px;top:120.0px;height:2px;width:184.4px"></div>
<div class="gl" style="left:5px;top:160.2px;height:2px;width:184.4px"></div>
<div class="gl" style="left:5px;top:200.4px;height:2px;width:184.4px"></div>
<div class="gl" style="left:5px;top:240.6px;height:2px;width:184.4px"></div>
<div class="box" style="left:7.4px;top:7.3px;width:23.1px;height:34.0px"><span style="position:relative;top:4.6px">E</span></div>
<div class="t sc c" style="left:97.9px;top:242.2px">100 km</div>
</div>
<div class="fr" style="left:406.4px;top:399.7px;width:194.4px;height:282.3px;border-color:#1b3331"></div>
<div class="t ti c" style="left:503.6px;top:387.0px;font-size:22.6px">Mulungu p.</div>
<div class="t tk r" style="left:401.4px;top:400.1px">20</div>
<div class="t tk r" style="left:401.4px;top:440.3px">19</div>
<div class="t tk r" style="left:401.4px;top:480.5px">18</div>
<div class="t tk r" style="left:401.4px;top:520.7px">17</div>
<div class="t tk r" style="left:401.4px;top:560.9px">16</div>
<div class="t tk r" style="left:401.4px;top:601.1px">15</div>
<div class="t tk r" style="left:401.4px;top:641.3px">14</div>
<div class="t tk r" style="left:401.4px;top:681.5px">13</div>
<div class="t tk c" style="left:408.0px;top:698.3px">140</div>
<div class="t tk c" style="left:484.5px;top:698.3px">142</div>
<div class="t tk c" style="left:561.1px;top:698.3px">144</div>
<div class="t lb c" style="left:503.6px;top:724.0px">E Longitude (°)</div>
<div class="t lb v" style="left:362.8px;top:540.9px">Latitude (°)</div>
<div class="cbar" style="left:607.0px;top:399.7px;width:16.1px;height:281.3px"></div>
<div class="ct" style="left:619.1px;top:400.0px"></div>
<div class="t cb l" style="left:629.1px;top:400.1px">250</div>
<div class="ct" style="left:619.1px;top:446.9px"></div>
<div class="t cb l" style="left:629.1px;top:447.0px">160</div>
<div class="ct" style="left:619.1px;top:493.8px"></div>
<div class="t cb l" style="left:629.1px;top:493.9px">96</div>
<div class="ct" style="left:619.1px;top:540.7px"></div>
<div class="t cb l" style="left:629.1px;top:540.8px">52</div>
<div class="ct" style="left:619.1px;top:587.6px"></div>
<div class="t cb l" style="left:629.1px;top:587.7px">25</div>
<div class="ct" style="left:619.1px;top:634.5px"></div>
<div class="t cb l" style="left:629.1px;top:634.6px">10</div>
<div class="plot" style="left:732.3px;top:399.7px;width:210.9px;height:282.3px"><svg width="210.9" height="282.3" viewBox="0 0 210.9 282.3"><defs><filter id="fF" x="0" y="0" width="100%" height="100%" filterUnits="objectBoundingBox" color-interpolation-filters="sRGB">
<feTurbulence type="fractalNoise" baseFrequency="0.03 0.025" numOctaves="2" seed="7" result="n"/>
<feColorMatrix in="n" type="matrix" values="1 0 0 0 0  1 0 0 0 0  1 0 0 0 0  0 0 0 0 1" result="ng"/>
<feComposite in="SourceGraphic" in2="ng" operator="arithmetic" k1="0" k2="1" k3="0.1" k4="-0.0500" result="s"/>
<feComponentTransfer in="s">
<feFuncR type="table" tableValues="0.0000 0.0257 0.0481 0.0668 0.0817 0.0927 0.0999 0.1036 0.1042 0.1024 0.0988 0.0942 0.0895 0.0853 0.0827 0.0823 0.0850 0.0912 0.1016 0.1166 0.1363 0.1608 0.1901 0.2238 0.2616 0.3030 0.3473 0.3937 0.4414 0.4895 0.5372 0.5835 0.6275 0.6686 0.7059 0.7390 0.7673 0.7907 0.8088 0.8218 0.8299 0.8333 0.8325 0.8282 0.8210 0.8117 0.8011 0.7902 0.7798 0.7707 0.7636 0.7592 0.7581 0.7607 0.7673 0.7780 0.7927 0.8112 0.8331 0.8580 0.8851 0.9137 0.9430 0.9720 1.0000"/>
<feFuncG type="table" tableValues="0.0000 0.0088 0.0186 0.0300 0.0431 0.0581 0.0752 0.0944 0.1156 0.1387 0.1634 0.1894 0.2163 0.2438 0.2713 0.2986 0.3250 0.3502 0.3738 0.3954 0.4148 0.4317 0.4461 0.4578 0.4668 0.4734 0.4778 0.4801 0.4807 0.4800 0.4786 0.4767 0.4750 0.4738 0.4737 0.4751 0.4784 0.4838 0.4916 0.5021 0.5152 0.5310 0.5495 0.5704 0.5936 0.6187 0.6453 0.6731 0.7015 0.7303 0.7588 0.7867 0.8136 0.8391 0.8629 0.8848 0.9046 0.9223 0.9379 0.9516 0.9634 0.9738 0.9831 0.9917 1.0000"/>
<feFuncB type="table" tableValues="0.0000 0.0251 0.0530 0.0831 0.1143 0.1458 0.1764 0.2055 0.2320 0.2553 0.2747 0.2899 0.3005 0.3064 0.3078 0.3048 0.2979 0.2876 0.2747 0.2600 0.2444 0.2288 0.2141 0.2014 0.1916 0.1854 0.1836 0.1867 0.1953 0.2095 0.2295 0.2552 0.2864 0.3226 0.3633 0.4078 0.4551 0.5045 0.5550 0.6055 0.6552 0.7030 0.7481 0.7897 0.8272 0.8601 0.8881 0.9109 0.9287 0.9415 0.9497 0.9540 0.9548 0.9530 0.9495 0.9450 0.9407 0.9373 0.9358 0.9369 0.9413 0.9495 0.9620 0.9788 1.0000"/>
<feFuncA type="linear" slope="0" intercept="1"/>
</feComponentTransfer>
</filter><filter id="fFb3" filterUnits="userSpaceOnUse" x="-40" y="-40" width="291" height="362" color-interpolation-filters="sRGB"><feGaussianBlur stdDeviation="3"/></filter><filter id="fFb5" filterUnits="userSpaceOnUse" x="-40" y="-40" width="291" height="362" color-interpolation-filters="sRGB"><feGaussianBlur stdDeviation="5"/></filter><filter id="fFb8" filterUnits="userSpaceOnUse" x="-40" y="-40" width="291" height="362" color-interpolation-filters="sRGB"><feGaussianBlur stdDeviation="8"/></filter><filter id="fFb12" filterUnits="userSpaceOnUse" x="-40" y="-40" width="291" height="362" color-interpolation-filters="sRGB"><feGaussianBlur stdDeviation="12"/></filter></defs>
<g filter="url(#fF)"><rect x="-5" y="-5" width="220.9" height="292.3" fill="#262626"/>
<g filter="url(#fFb8)" opacity="0.85"><ellipse cx="167" cy="233" rx="13" ry="12" transform="rotate(7 167 233)" fill="#121212"/><ellipse cx="99" cy="215" rx="12" ry="19" transform="rotate(12 99 215)" fill="#1d1d1d"/><ellipse cx="154" cy="117" rx="13" ry="18" transform="rotate(2 154 117)" fill="#1a1a1a"/><ellipse cx="170" cy="75" rx="16" ry="18" transform="rotate(-7 170 75)" fill="#343434"/><ellipse cx="20" cy="226" rx="16" ry="15" transform="rotate(-12 20 226)" fill="#161616"/><ellipse cx="134" cy="82" rx="18" ry="17" transform="rotate(6 134 82)" fill="#1a1a1a"/><ellipse cx="76" cy="264" rx="17" ry="16" transform="rotate(8 76 264)" fill="#2c2c2c"/><ellipse cx="170" cy="276" rx="8" ry="14" transform="rotate(-8 170 276)" fill="#2a2a2a"/><ellipse cx="124" cy="25" rx="17" ry="16" transform="rotate(7 124 25)" fill="#171717"/><ellipse cx="66" cy="56" rx="13" ry="11" transform="rotate(15 66 56)" fill="#1a1a1a"/><ellipse cx="147" cy="4" rx="16" ry="9" transform="rotate(16 147 4)" fill="#1f1f1f"/><ellipse cx="131" cy="87" rx="12" ry="14" transform="rotate(20 131 87)" fill="#171717"/><ellipse cx="11" cy="120" rx="15" ry="14" transform="rotate(-10 11 120)" fill="#3a3a3a"/><ellipse cx="207" cy="253" rx="15" ry="21" transform="rotate(13 207 253)" fill="#242424"/><ellipse cx="168" cy="146" rx="13" ry="18" transform="rotate(-17 168 146)" fill="#232323"/><ellipse cx="158" cy="75" rx="13" ry="19" transform="rotate(-19 158 75)" fill="#191919"/><ellipse cx="26" cy="167" rx="12" ry="12" transform="rotate(17 26 167)" fill="#242424"/><ellipse cx="54" cy="116" rx="17" ry="17" transform="rotate(-1 54 116)" fill="#1d1d1d"/><ellipse cx="101" cy="40" rx="12" ry="13" transform="rotate(-7 101 40)" fill="#333333"/><ellipse cx="139" cy="275" rx="17" ry="14" transform="rotate(-7 139 275)" fill="#2a2a2a"/><ellipse cx="84" cy="138" rx="16" ry="21" transform="rotate(-20 84 138)" fill="#1e1e1e"/><ellipse cx="95" cy="16" rx="8" ry="19" transform="rotate(9 95 16)" fill="#161616"/><ellipse cx="76" cy="266" rx="17" ry="10" transform="rotate(18 76 266)" fill="#1a1a1a"/><ellipse cx="129" cy="119" rx="16" ry="20" transform="rotate(-1 129 119)" fill="#262626"/><ellipse cx="21" cy="102" rx="9" ry="17" transform="rotate(-14 21 102)" fill="#2b2b2b"/><ellipse cx="133" cy="28" rx="9" ry="17" transform="rotate(16 133 28)" fill="#252525"/><ellipse cx="133" cy="198" rx="9" ry="20" transform="rotate(5 133 198)" fill="#151515"/><ellipse cx="192" cy="257" rx="17" ry="15" transform="rotate(12 192 257)" fill="#2e2e2e"/><ellipse cx="29" cy="267" rx="17" ry="15" transform="rotate(-2 29 267)" fill="#323232"/><ellipse cx="58" cy="202" rx="9" ry="19" transform="rotate(-9 58 202)" fill="#3a3a3a"/><ellipse cx="198" cy="24" rx="17" ry="13" transform="rotate(-3 198 24)" fill="#393939"/><ellipse cx="195" cy="9" rx="9" ry="20" transform="rotate(1 195 9)" fill="#2c2c2c"/><ellipse cx="7" cy="49" rx="12" ry="10" transform="rotate(11 7 49)" fill="#3a3a3a"/><ellipse cx="200" cy="198" rx="11" ry="10" transform="rotate(-15 200 198)" fill="#303030"/><ellipse cx="115" cy="131" rx="13" ry="10" transform="rotate(1 115 131)" fill="#151515"/><ellipse cx="6" cy="149" rx="10" ry="13" transform="rotate(3 6 149)" fill="#181818"/><ellipse cx="82" cy="63" rx="10" ry="16" transform="rotate(-3 82 63)" fill="#373737"/><ellipse cx="34" cy="90" rx="10" ry="16" transform="rotate(3 34 90)" fill="#323232"/><ellipse cx="40" cy="92" rx="12" ry="15" transform="rotate(20 40 92)" fill="#222222"/><ellipse cx="116" cy="187" rx="15" ry="17" transform="rotate(-5 116 187)" fill="#333333"/></g>
<g filter="url(#fFb5)"><ellipse cx="199" cy="29" rx="6" ry="9" fill="#000000"/><ellipse cx="28" cy="68" rx="5" ry="8" fill="#080808"/><ellipse cx="53" cy="20" rx="5" ry="7" fill="#0a0a0a"/><ellipse cx="121" cy="178" rx="7" ry="9" fill="#0a0a0a"/><ellipse cx="134" cy="205" rx="8" ry="14" fill="#4c4c4c"/></g>
<circle cx="117" cy="100" r="27" fill="none" stroke="#5e5e5e" stroke-width="30" filter="url(#fFb8)"/>
<path d="M91 115 C89 95 100 72 125 56" fill="none" stroke="#9e9e9e" stroke-width="20" stroke-linecap="round" filter="url(#fFb5)"/>
<path d="M125 57 C140 72 147 92 148 114" fill="none" stroke="#a3a3a3" stroke-width="15" stroke-linecap="round" filter="url(#fFb5)"/>
<ellipse cx="100" cy="80" rx="9" ry="12" transform="rotate(35 100 80)" fill="#adadad" filter="url(#fFb5)"/>
<ellipse cx="130" cy="72" rx="19" ry="14" transform="rotate(50 130 72)" fill="#ffffff" filter="url(#fFb5)"/>
<ellipse cx="118" cy="105" rx="6" ry="9" fill="#141414" filter="url(#fFb5)"/>

</g><rect x="169" y="3" width="14" height="277" fill="#2f7f78" opacity="0.18"/><rect x="171" y="2.5" width="13" height="1.8" fill="#a89a3c" opacity="0.85"/><rect x="171" y="278" width="13" height="1.8" fill="#a89a3c" opacity="0.85"/></svg>
<div class="bar" style="left:30.8px;top:252.7px;width:149.0px;height:14.9px"><i style="left:0.0px;width:30.1px;background:#a6a5a4"></i><i style="left:29.8px;width:30.1px;background:#fff"></i><i style="left:59.6px;width:30.1px;background:#a6a5a4"></i><i style="left:89.4px;width:30.1px;background:#fff"></i><i style="left:119.2px;width:30.1px;background:#a6a5a4"></i></div>
<div class="gl" style="left:83.9px;top:5px;width:2px;height:272.3px"></div>
<div class="gl" style="left:167.0px;top:5px;width:2px;height:272.3px"></div>
<div class="gl" style="left:5px;top:46.0px;height:2px;width:200.9px"></div>
<div class="gl" style="left:5px;top:93.0px;height:2px;width:200.9px"></div>
<div class="gl" style="left:5px;top:140.0px;height:2px;width:200.9px"></div>
<div class="gl" style="left:5px;top:187.0px;height:2px;width:200.9px"></div>
<div class="gl" style="left:5px;top:234.0px;height:2px;width:200.9px"></div>
<div class="box" style="left:7.9px;top:7.3px;width:21.4px;height:34.0px"><span style="position:relative;top:4.6px">F</span></div>
<div class="t sc c" style="left:106.3px;top:242.2px">100 km</div>
</div>
<div class="fr" style="left:732.3px;top:399.7px;width:210.9px;height:282.3px;border-color:#23262f"></div>
<div class="t ti c" style="left:837.8px;top:387.0px;font-size:22.8px">Unnamed P. 2</div>
<div class="t tk r" style="left:727.3px;top:399.8px">30</div>
<div class="t tk r" style="left:727.3px;top:446.7px">29</div>
<div class="t tk r" style="left:727.3px;top:493.6px">28</div>
<div class="t tk r" style="left:727.3px;top:540.5px">27</div>
<div class="t tk r" style="left:727.3px;top:587.4px">26</div>
<div class="t tk r" style="left:727.3px;top:634.3px">25</div>
<div class="t tk r" style="left:727.3px;top:681.2px">24</div>
<div class="t tk c" style="left:734.2px;top:698.3px">166</div>
<div class="t tk c" style="left:817.2px;top:698.3px">168</div>
<div class="t tk c" style="left:900.2px;top:698.3px">170</div>
<div class="t lb c" style="left:837.8px;top:724.0px">E Longitude (°)</div>
<div class="t lb v" style="left:688.8px;top:540.9px">Latitude (°)</div>
<div class="cbar" style="left:949.2px;top:399.7px;width:16.4px;height:281.3px"></div>
<div class="ct" style="left:961.6px;top:400.0px"></div>
<div class="t cb l" style="left:971.6px;top:400.1px">150</div>
<div class="ct" style="left:961.6px;top:449.6px"></div>
<div class="t cb l" style="left:971.6px;top:449.7px">96</div>
<div class="ct" style="left:961.6px;top:499.1px"></div>
<div class="t cb l" style="left:971.6px;top:499.2px">57</div>
<div class="ct" style="left:961.6px;top:548.6px"></div>
<div class="t cb l" style="left:971.6px;top:548.8px">31</div>
<div class="ct" style="left:961.6px;top:598.2px"></div>
<div class="t cb l" style="left:971.6px;top:598.3px">15</div>
<div class="ct" style="left:961.6px;top:647.8px"></div>
<div class="t cb l" style="left:971.6px;top:647.9px">6</div>
</body></html>
